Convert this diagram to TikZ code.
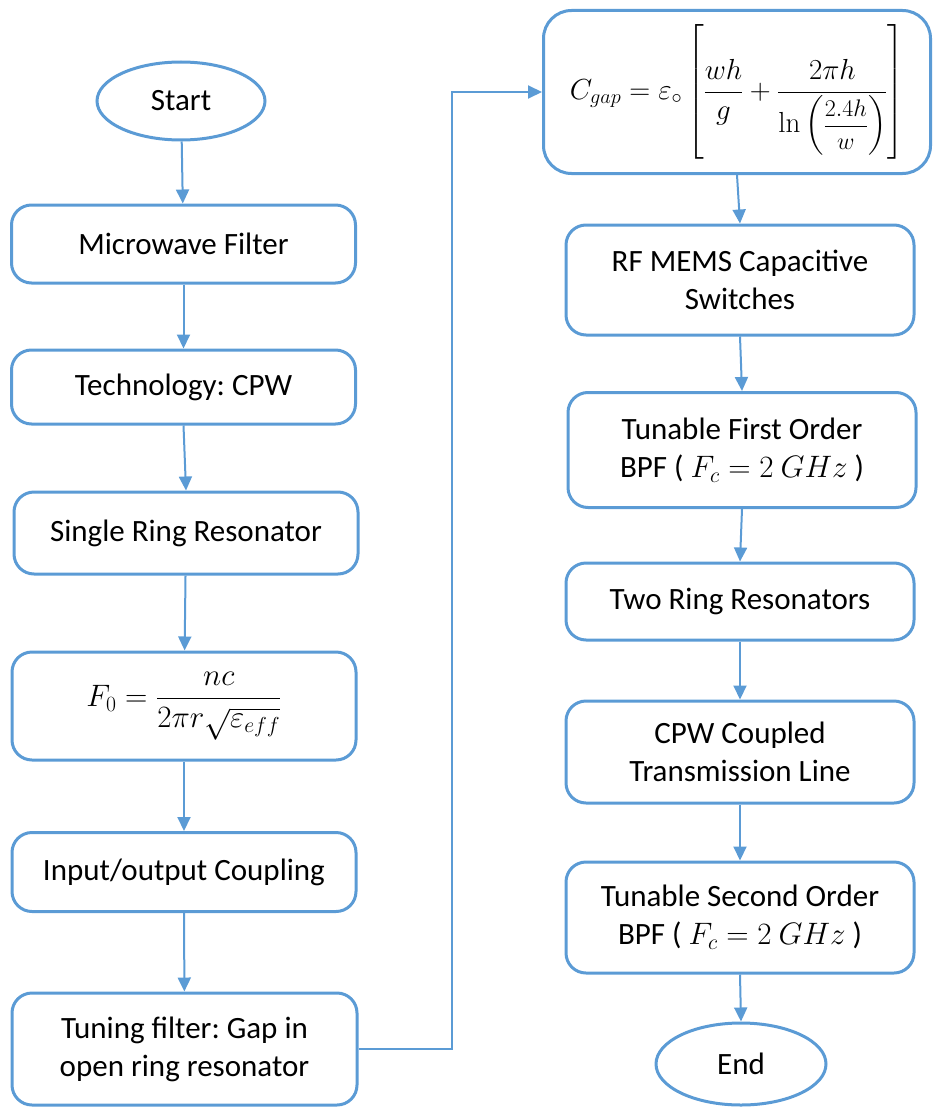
\RequirePackage{fix-cm}
\documentclass[tikz,border=0pt]{standalone}
\usepackage{amsmath}
\usepackage[no-math]{fontspec}
\setmainfont{Carlito}
\usetikzlibrary{shapes.geometric,arrows.meta}
\definecolor{flowblue}{RGB}{91,155,213}
\frenchspacing
\begin{document}
\begin{tikzpicture}[x=1pt,y=-1pt,
            every node/.style = {font=\fontsize{31}{38}\selectfont, align=center},
            procbox/.style = {draw=flowblue, line width=3pt, rounded corners=20pt,
                minimum width=344pt, inner sep=4pt},
            termbox/.style = {draw=flowblue, line width=3pt, ellipse, inner sep=0pt},
            flow/.style = {draw=flowblue, line width=2pt,
                -{Triangle[length=14pt,width=13pt]}}]
            \useasboundingbox (0,0) rectangle (932,1108);
            % left column
            \node[termbox, minimum width=168pt, minimum height=78pt] (start) at (181,101) {Start};
            \node[procbox, minimum height=78pt] (filter) at (183.5,244) {Microwave Filter};
            \node[procbox, minimum height=74pt] (tech) at (183.5,387) {Technology: CPW};
            \node[procbox, minimum height=82pt] (single) at (186,533) {Single Ring Resonator};
            \node[procbox, minimum height=108pt] (freq) at (184,706)
                {$F_0=\dfrac{nc}{2\pi r\sqrt{\varepsilon_{eff}}}$};
            \node[procbox, minimum height=79pt] (coupling) at (184,872) {Input/output Coupling};
            \node[procbox, minimum height=112pt, minimum width=345pt] (tuning) at (184.5,1049)
                {Tuning filter: Gap in\\open ring resonator};
            % right column
            \node[procbox, rounded corners=28pt, inner sep=0pt, minimum width=387pt, minimum height=163pt,
                font=\fontsize{29}{34}\selectfont] (gap) at (737,92)
                {$C_{gap}=\varepsilon_{\circ}\left[\dfrac{wh}{g}+\dfrac{2\pi h}
                {\ln\left(\mbox{\fontsize{24}{28}\selectfont$\dfrac{2.4h}{w}$}\right)}\right]$};
            \node[procbox, minimum width=348pt, minimum height=110pt] (mems) at (740,280)
                {RF MEMS Capacitive\\Switches};
            \node[procbox, minimum width=348pt, minimum height=115pt] (first) at (742,450)
                {Tunable First Order\\BPF ( $F_c=2\ GHz$ )};
            \node[procbox, minimum width=348pt, minimum height=77pt] (tworing) at (740,601.5)
                {Two Ring Resonators};
            \node[procbox, minimum width=348pt, minimum height=102pt] (cpw) at (740,752)
                {CPW Coupled\\Transmission Line};
            \node[procbox, minimum width=348pt, minimum height=111pt] (second) at (740,917.5)
                {Tunable Second Order\\BPF ( $F_c=2\ GHz$ )};
            \node[termbox, minimum width=170pt, minimum height=82pt] (stop) at (741,1064) {End};
            \coordinate (turn) at (452,92);
            % connectors
            \draw[flow] (start) -- (filter);
            \draw[flow] (filter) -- (tech);
            \draw[flow] (tech.south) -- (single.north);
            \draw[flow] (single) -- (freq);
            \draw[flow] (freq) -- (coupling);
            \draw[flow] (coupling) -- (tuning);
            \draw[flow] (tuning.east) -| (turn) -- (gap.west);
            \draw[flow] (gap.south) -- (mems.north);
            \draw[flow] (mems.south) -- (first.north);
            \draw[flow] (first.south) -- (tworing.north);
            \draw[flow] (tworing) -- (cpw);
            \draw[flow] (cpw) -- (second);
            \draw[flow] (second.south) -- (stop.north);
\end{tikzpicture}
\end{document}
